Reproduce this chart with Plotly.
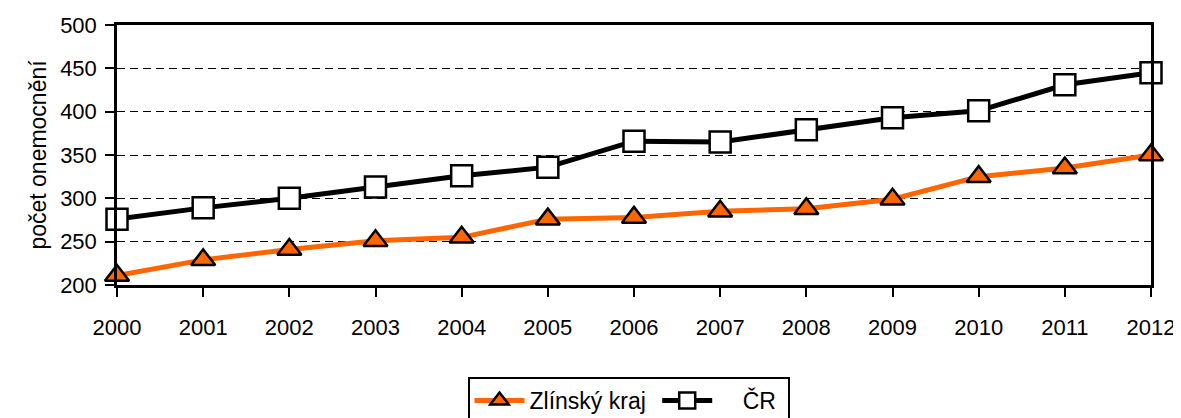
import plotly.graph_objects as go

years = [2000, 2001, 2002, 2003, 2004, 2005, 2006, 2007, 2008, 2009, 2010, 2011, 2012]
zlinsky = [211, 229, 241, 251, 255, 276, 278, 285, 288, 299, 325, 335, 350]
cr = [276, 289, 300, 313, 326, 336, 366, 365, 379, 393, 401, 431, 445]
y_ticks = [200, 250, 300, 350, 400, 450, 500]

fig = go.Figure()
fig.add_trace(go.Scatter(
    x=years, y=zlinsky, name="Zlínský kraj ", mode="lines+markers",
    line=dict(color="#FF6600", width=5),
    marker=dict(symbol="triangle-up", size=21, color="#FF6600",
                line=dict(color="black", width=2.5)),
    cliponaxis=False,
))
fig.add_trace(go.Scatter(
    x=years, y=cr, name="    ČR ", mode="lines+markers",
    line=dict(color="black", width=5),
    marker=dict(symbol="square", size=21, color="white",
                line=dict(color="black", width=2.5)),
    cliponaxis=False,
))

font_family = "Liberation Sans, Arial, sans-serif"
fig.update_layout(
    width=1173, height=410,
    margin=dict(l=109, r=30, t=17, b=133, autoexpand=False),
    plot_bgcolor="white", paper_bgcolor="white",
    font=dict(family=font_family, size=22, color="black"),
    showlegend=True,
    legend=dict(orientation="h", xref="container", x=0.529, xanchor="center",
                yref="container", y=0.1, yanchor="top",
                bordercolor="black", borderwidth=2, font=dict(size=23),
                itemwidth=50, tracegroupgap=0),
)
fig.update_xaxes(
    range=[2000, 2012], tickmode="array", tickvals=years,
    ticks="outside", ticklen=9, tickwidth=2, tickcolor="black",
    showline=True, linecolor="black", linewidth=2.5, mirror=True,
    showgrid=False, zeroline=False, automargin=False,
    ticklabelstandoff=12,
    tickfont=dict(size=22),
)
fig.update_yaxes(
    range=[200, 500], tickmode="array", tickvals=y_ticks,
    ticks="outside", ticklen=9, tickwidth=2, tickcolor="black",
    showline=True, linecolor="black", linewidth=2.5, mirror=True,
    showgrid=True, gridcolor="black", gridwidth=1, griddash="8px,5px",
    zeroline=False, automargin=False,
    ticklabelstandoff=4,
    tickfont=dict(size=22),
    title=dict(text="počet onemocnění", font=dict(size=23), standoff=8),
)

fig.write_html("out.html")
